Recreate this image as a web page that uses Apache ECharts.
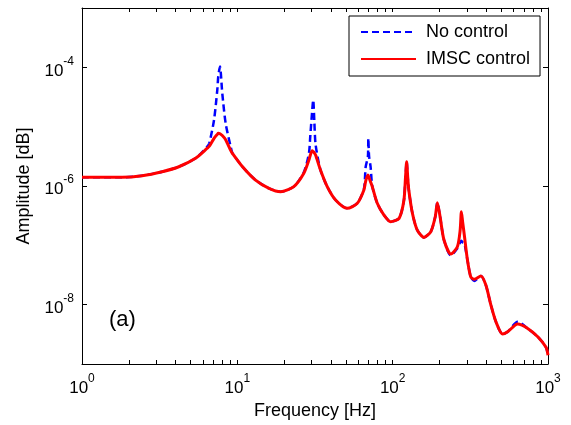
<!DOCTYPE html>
<html>
<head>
<meta charset="utf-8">
<script src="https://cdn.jsdelivr.net/npm/echarts@6/dist/echarts.min.js"></script>
<style>
  html, body { margin: 0; padding: 0; background: #fff; }
  #main { width: 571px; height: 425px; }
</style>
</head>
<body>
<div id="main"></div>
<script>
// frequency points [Hz]
const freqHz = [
  1, 1.81, 2.44, 3.28, 4.2, 5.38, 6.4, 6.6, 7.08, 7.43,
  7.54, 7.73, 8.0, 8.41, 9.06, 9.29, 10.8, 13.1, 16, 19,
  23.1, 26.8, 28.9, 29.5, 30.3, 30.8, 31.3, 31.9, 34.3, 37.9,
  42.9, 51, 59.2, 65.3, 67, 69.3, 69.7, 70.5, 72.1, 73.9,
  79.6, 87.9, 97, 110, 118, 121, 123, 125, 127, 134,
  144, 159, 176, 188, 194, 202, 214, 237, 261, 272,
  277, 282, 290, 303, 318, 335, 370, 398, 429, 462,
  510, 550, 638, 740, 859, 971, 1000
];

// amplitude without control
const noControl = [
  1.40e-6, 1.40e-6, 1.49e-6, 1.74e-6, 2.11e-6, 2.93e-6, 4.60e-6, 5.25e-6, 1.30e-5, 4.16e-5,
  7.08e-5, 1.03e-4, 3.66e-5, 1.14e-5, 4.60e-6, 3.63e-6, 2.11e-6, 1.26e-6, 9.14e-7, 8.02e-7,
  9.77e-7, 1.70e-6, 3.55e-6, 7.08e-6, 1.78e-5, 2.82e-5, 1.26e-5, 5.01e-6, 1.86e-6, 9.77e-7,
  5.81e-7, 4.21e-7, 5.11e-7, 8.91e-7, 2.09e-6, 3.16e-6, 6.37e-6, 3.16e-6, 2.11e-6, 1.00e-6,
  5.11e-7, 3.24e-7, 2.50e-7, 2.85e-7, 5.62e-7, 1.41e-6, 2.57e-6, 1.41e-6, 8.57e-7, 3.47e-7,
  1.81e-7, 1.36e-7, 1.70e-7, 3.03e-7, 5.24e-7, 3.03e-7, 1.23e-7, 6.76e-8, 8.91e-8, 1.12e-7,
  1.20e-7, 1.12e-7, 1.05e-7, 5.65e-8, 2.96e-8, 2.51e-8, 3.05e-8, 2.14e-8, 9.84e-9, 5.15e-9,
  3.19e-9, 3.49e-9, 5.13e-9, 3.98e-9, 2.88e-9, 1.91e-9, 1.41e-9
];

// amplitude with IMSC control
const imscControl = [
  1.40e-6, 1.40e-6, 1.49e-6, 1.74e-6, 2.11e-6, 2.93e-6, 4.33e-6, 4.68e-6, 6.37e-6, 7.41e-6,
  7.74e-6, 7.59e-6, 7.08e-6, 6.03e-6, 3.98e-6, 3.56e-6, 2.11e-6, 1.26e-6, 9.14e-7, 8.02e-7,
  9.77e-7, 1.64e-6, 2.74e-6, 3.31e-6, 3.94e-6, 3.80e-6, 3.63e-6, 3.33e-6, 1.86e-6, 9.77e-7,
  5.81e-7, 4.21e-7, 5.11e-7, 8.57e-7, 1.20e-6, 1.53e-6, 1.48e-6, 1.38e-6, 1.17e-6, 9.77e-7,
  5.11e-7, 3.24e-7, 2.50e-7, 2.85e-7, 5.62e-7, 1.41e-6, 2.57e-6, 1.41e-6, 8.57e-7, 3.47e-7,
  1.81e-7, 1.36e-7, 1.70e-7, 3.03e-7, 5.24e-7, 3.03e-7, 1.23e-7, 7.13e-8, 9.46e-8, 1.81e-7,
  3.69e-7, 2.51e-7, 1.41e-7, 5.65e-8, 2.96e-8, 2.67e-8, 3.05e-8, 2.14e-8, 9.84e-9, 5.15e-9,
  3.19e-9, 3.49e-9, 4.71e-9, 3.98e-9, 2.88e-9, 1.91e-9, 1.41e-9
];

// tick positions
const xTicks = [1, 2, 3, 4, 5, 6, 7, 8, 9, 10, 20, 30, 40, 50, 60, 70, 80, 90, 100,
  200, 300, 400, 500, 600, 700, 800, 900, 1000];
const xLabels = [1, 10, 100, 1000];
const yTicks = [1e-8, 1e-6, 1e-4];

const font = "'Liberation Sans', Arial, Helvetica, sans-serif";

// 10^n labels with a raised exponent
const powLabel = (v) => "{b|10}{e|" + Math.round(Math.log10(v)) + "}";
const powRich = {
  b: { fontSize: 17, lineHeight: 24, verticalAlign: "bottom", color: "#000", fontFamily: font },
  e: { fontSize: 12, lineHeight: 12, verticalAlign: "top", color: "#000", fontFamily: font },
};

const axisBase = {
  type: "log",
  logBase: 10,
  splitLine: { show: false },
  axisLine: { show: true, onZero: false, lineStyle: { color: "#000", width: 1 } },
};

var myChart = echarts.init(document.getElementById("main"));

var option = {
  animation: false,
  backgroundColor: "#fff",
  grid: { left: 82, right: 23, top: 8, bottom: 61 },
  xAxis: [
    {
      ...axisBase,
      position: "bottom",
      min: 1,
      max: 1000,
      axisTick: { inside: true, length: 4, customValues: xTicks, lineStyle: { color: "#000" } },
      axisLabel: {
        customValues: xLabels,
        formatter: powLabel,
        rich: powRich,
        margin: 9,
        alignMinLabel: "center",
        alignMaxLabel: "center",
      },
      name: "Frequency [Hz]",
      nameLocation: "middle",
      nameGap: 27,
      nameTextStyle: { fontSize: 18, color: "#000", fontFamily: font },
    },
    {
      ...axisBase,
      position: "top",
      min: 1,
      max: 1000,
      axisTick: { inside: true, length: 4, customValues: xTicks, lineStyle: { color: "#000" } },
      axisLabel: { show: false },
    },
  ],
  yAxis: [
    {
      ...axisBase,
      position: "left",
      min: 1e-9,
      max: 1e-3,
      axisTick: { inside: true, length: 5, customValues: yTicks, lineStyle: { color: "#000" } },
      axisLabel: { customValues: yTicks, formatter: powLabel, rich: powRich, margin: 8 },
      name: "Amplitude [dB]",
      nameLocation: "middle",
      nameGap: 46,
      nameTextStyle: { fontSize: 18, color: "#000", fontFamily: font },
    },
    {
      ...axisBase,
      position: "right",
      min: 1e-9,
      max: 1e-3,
      axisTick: { inside: true, length: 5, customValues: yTicks, lineStyle: { color: "#000" } },
      axisLabel: { show: false },
    },
  ],
  legend: {
    data: ["No control", "IMSC control"],
    orient: "vertical",
    left: 349,
    top: 16,
    itemWidth: 55,
    itemHeight: 14,
    itemGap: 9,
    padding: [7, 10, 8, 11],
    backgroundColor: "#fff",
    borderColor: "#000",
    borderWidth: 1,
    borderRadius: 0,
    itemStyle: { opacity: 0 },
    textStyle: { fontSize: 18, color: "#000", fontFamily: font, padding: [0, 0, 0, 5] },
  },
  graphic: [
    {
      type: "text",
      left: 109,
      top: 309,
      style: { text: "(a)", fontSize: 22, fill: "#000", fontFamily: font },
    },
  ],
  series: [
    {
      name: "No control",
      type: "line",
      symbol: "none",
      smooth: 0.25,
      data: freqHz.map((f, i) => [f, noControl[i]]),
      lineStyle: { color: "#0000ff", width: 2.5, type: [7, 4] },
      itemStyle: { color: "#0000ff" },
    },
    {
      name: "IMSC control",
      type: "line",
      symbol: "none",
      smooth: 0.25,
      data: freqHz.map((f, i) => [f, imscControl[i]]),
      lineStyle: { color: "#ff0000", width: 3 },
      itemStyle: { color: "#ff0000" },
    },
  ],
};

myChart.setOption(option);
</script>
</body>
</html>
